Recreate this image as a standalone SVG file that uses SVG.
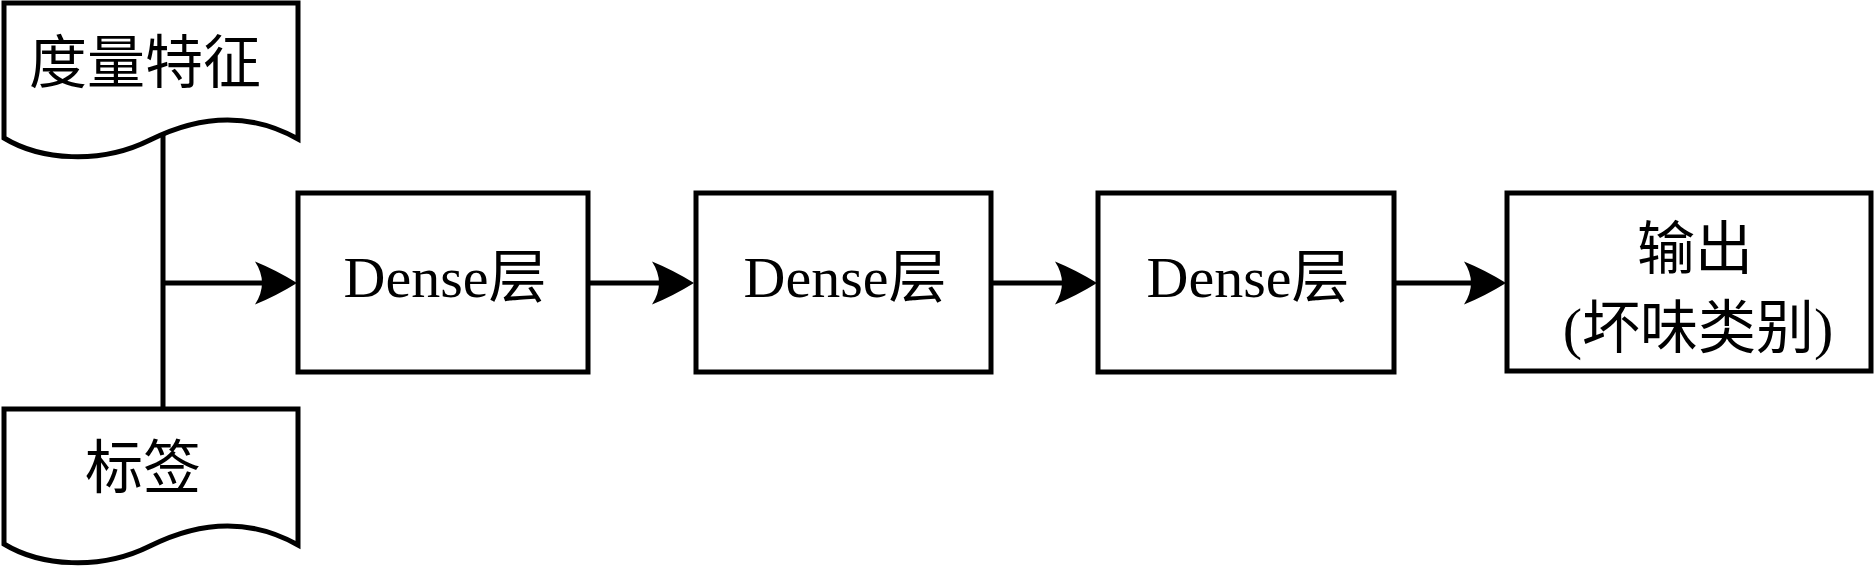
<svg xmlns="http://www.w3.org/2000/svg" xmlns:xlink="http://www.w3.org/1999/xlink" width="1874" height="567" viewBox="0 0 1874 567">
  <style>
    .shape { fill: #ffffff; stroke: #000000; stroke-width: 5; stroke-linejoin: miter; }
    .conn { fill: none; stroke: #000000; stroke-width: 5; }
    .head { fill: #000000; stroke: none; }
    .lbl { font-family: "Liberation Serif", "Noto Sans CJK SC", serif; font-size: 58px; fill: #000000; text-anchor: middle; }
  </style>
  <defs>
    <path id="ah" class="head" d="M1,0 Q-20,-13 -41,-21.5 Q-27,0 -41,21.5 Q-20,13 1,0 Z"/>
  </defs>
  <rect width="1874" height="567" fill="#ffffff"/>

  <g id="connectors">
    <line class="conn" x1="163" y1="134" x2="163" y2="409"/>
    <line class="conn" x1="163" y1="283" x2="270" y2="283"/>
    <use xlink:href="#ah" href="#ah" x="296" y="283"/>
    <line class="conn" x1="589" y1="283" x2="670" y2="283"/>
    <use xlink:href="#ah" href="#ah" x="693" y="283"/>
    <line class="conn" x1="991" y1="283" x2="1070" y2="283"/>
    <use xlink:href="#ah" href="#ah" x="1096" y="283"/>
    <line class="conn" x1="1394" y1="283" x2="1480" y2="283"/>
    <use xlink:href="#ah" href="#ah" x="1505" y="283"/>
  </g>

  <g id="doc-features">
    <path class="shape" d="M4,3 H298 V139 C250,112 200,115 150,140 C100,165 40,160 4,138 Z"/>
    <text class="lbl" x="145" y="83">度量特征</text>
  </g>

  <g id="doc-labels">
    <path class="shape" d="M4,409 H298 V545 C250,518 200,521 150,546 C100,571 40,566 4,544 Z"/>
    <text class="lbl" x="143" y="488">标签</text>
  </g>

  <g id="dense1">
    <rect class="shape" x="298" y="193" width="290" height="179"/>
    <text class="lbl" x="445" y="297">Dense层</text>
  </g>

  <g id="dense2">
    <rect class="shape" x="696" y="193" width="295" height="179"/>
    <text class="lbl" x="845" y="297">Dense层</text>
  </g>

  <g id="dense3">
    <rect class="shape" x="1098" y="193" width="296" height="179"/>
    <text class="lbl" x="1248" y="297">Dense层</text>
  </g>

  <g id="output">
    <rect class="shape" x="1507" y="193" width="364" height="178"/>
    <text class="lbl" x="1695" y="269">输出</text>
    <text class="lbl" x="1698" y="348">(坏味类别)</text>
  </g>
</svg>
